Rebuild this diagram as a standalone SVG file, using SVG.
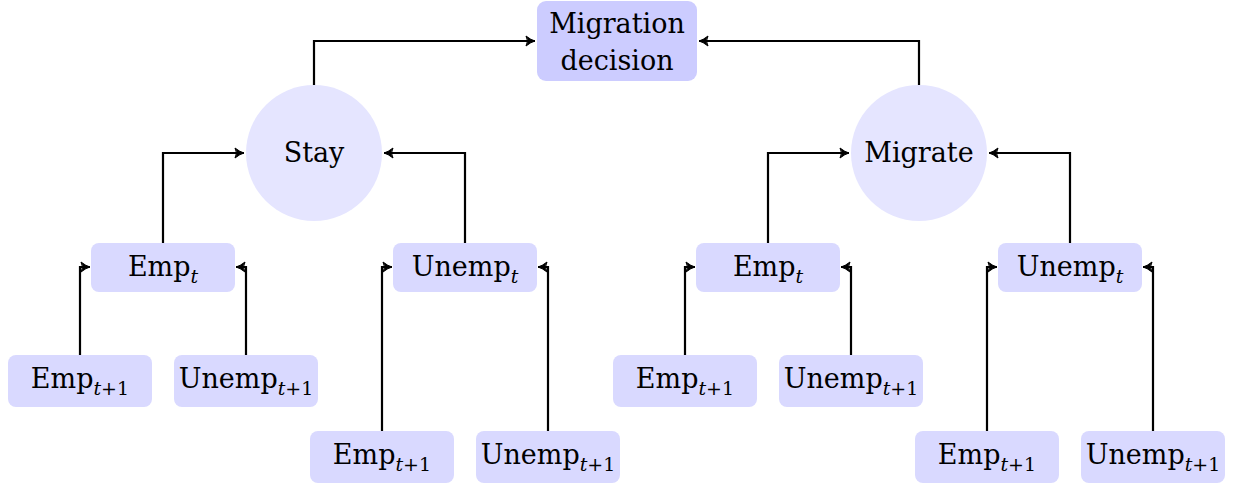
<svg xmlns="http://www.w3.org/2000/svg" width="1241" height="483" viewBox="0 0 1241 483">
<defs>
<marker id="arr" markerUnits="userSpaceOnUse" viewBox="-10 -6 12 12" refX="0" refY="0" markerWidth="12" markerHeight="12" orient="auto">
<path d="M-9,-5 Q-4,-1 0,0 Q-4,1 -9,5 Q-6,0 -9,-5 Z" fill="#000" stroke="#000" stroke-width="1" stroke-linejoin="round"/>
</marker>
</defs>
<g id="connectors" fill="none" stroke="#000" stroke-width="2.2" marker-end="url(#arr)">
<path d="M314,86 V41 H535"/>
<path d="M919,86 V41 H699"/>
<path d="M163,243 V153 H244"/>
<path d="M465,243 V153 H384"/>
<path d="M768,243 V153 H849"/>
<path d="M1070,243 V153 H989"/>
<path d="M80,355 V267 H90"/>
<path d="M246,355 V267 H236"/>
<path d="M382,431 V267 H392"/>
<path d="M548,431 V267 H538"/>
<path d="M685,355 V267 H695"/>
<path d="M851,355 V267 H841"/>
<path d="M987,431 V267 H997"/>
<path d="M1153,431 V267 H1143"/>
</g>
<g id="migration-decision"><rect fill="#ccccff" x="537" y="1" width="160" height="80" rx="9"/><text x="617" y="33" font-family="DejaVu Serif" font-size="27" text-anchor="middle">Migration</text><text x="617" y="70" font-family="DejaVu Serif" font-size="27" text-anchor="middle">decision</text></g>
<g id="stay"><circle fill="#e5e5ff" cx="314" cy="153" r="68"/><text x="314" y="162" font-family="DejaVu Serif" font-size="27" text-anchor="middle">Stay</text></g>
<g id="migrate"><circle fill="#e5e5ff" cx="919" cy="153" r="68"/><text x="919" y="162" font-family="DejaVu Serif" font-size="27" text-anchor="middle">Migrate</text></g>
<g id="stay-emp"><rect fill="#d9d9ff" x="91" y="243" width="144" height="49" rx="8"/><text x="163" y="276" font-family="DejaVu Serif" font-size="27" text-anchor="middle">Emp<tspan font-size="19" font-style="italic" dy="7">t</tspan></text></g>
<g id="stay-unemp"><rect fill="#d9d9ff" x="393" y="243" width="144" height="49" rx="8"/><text x="465" y="276" font-family="DejaVu Serif" font-size="27" text-anchor="middle">Unemp<tspan font-size="19" font-style="italic" dy="7">t</tspan></text></g>
<g id="migrate-emp"><rect fill="#d9d9ff" x="696" y="243" width="144" height="49" rx="8"/><text x="768" y="276" font-family="DejaVu Serif" font-size="27" text-anchor="middle">Emp<tspan font-size="19" font-style="italic" dy="7">t</tspan></text></g>
<g id="migrate-unemp"><rect fill="#d9d9ff" x="998" y="243" width="144" height="49" rx="8"/><text x="1070" y="276" font-family="DejaVu Serif" font-size="27" text-anchor="middle">Unemp<tspan font-size="19" font-style="italic" dy="7">t</tspan></text></g>
<g id="s-e-emp"><rect fill="#d9d9ff" x="8" y="355" width="144" height="52" rx="8"/><text x="80" y="388" font-family="DejaVu Serif" font-size="27" text-anchor="middle">Emp<tspan font-size="19" font-style="italic" dy="7">t</tspan><tspan font-size="19">+1</tspan></text></g>
<g id="s-e-unemp"><rect fill="#d9d9ff" x="174" y="355" width="144" height="52" rx="8"/><text x="246" y="388" font-family="DejaVu Serif" font-size="27" text-anchor="middle">Unemp<tspan font-size="19" font-style="italic" dy="7">t</tspan><tspan font-size="19">+1</tspan></text></g>
<g id="s-u-emp"><rect fill="#d9d9ff" x="310" y="431" width="144" height="52" rx="8"/><text x="382" y="464" font-family="DejaVu Serif" font-size="27" text-anchor="middle">Emp<tspan font-size="19" font-style="italic" dy="7">t</tspan><tspan font-size="19">+1</tspan></text></g>
<g id="s-u-unemp"><rect fill="#d9d9ff" x="476" y="431" width="144" height="52" rx="8"/><text x="548" y="464" font-family="DejaVu Serif" font-size="27" text-anchor="middle">Unemp<tspan font-size="19" font-style="italic" dy="7">t</tspan><tspan font-size="19">+1</tspan></text></g>
<g id="m-e-emp"><rect fill="#d9d9ff" x="613" y="355" width="144" height="52" rx="8"/><text x="685" y="388" font-family="DejaVu Serif" font-size="27" text-anchor="middle">Emp<tspan font-size="19" font-style="italic" dy="7">t</tspan><tspan font-size="19">+1</tspan></text></g>
<g id="m-e-unemp"><rect fill="#d9d9ff" x="779" y="355" width="144" height="52" rx="8"/><text x="851" y="388" font-family="DejaVu Serif" font-size="27" text-anchor="middle">Unemp<tspan font-size="19" font-style="italic" dy="7">t</tspan><tspan font-size="19">+1</tspan></text></g>
<g id="m-u-emp"><rect fill="#d9d9ff" x="915" y="431" width="144" height="52" rx="8"/><text x="987" y="464" font-family="DejaVu Serif" font-size="27" text-anchor="middle">Emp<tspan font-size="19" font-style="italic" dy="7">t</tspan><tspan font-size="19">+1</tspan></text></g>
<g id="m-u-unemp"><rect fill="#d9d9ff" x="1081" y="431" width="144" height="52" rx="8"/><text x="1153" y="464" font-family="DejaVu Serif" font-size="27" text-anchor="middle">Unemp<tspan font-size="19" font-style="italic" dy="7">t</tspan><tspan font-size="19">+1</tspan></text></g>
</svg>
